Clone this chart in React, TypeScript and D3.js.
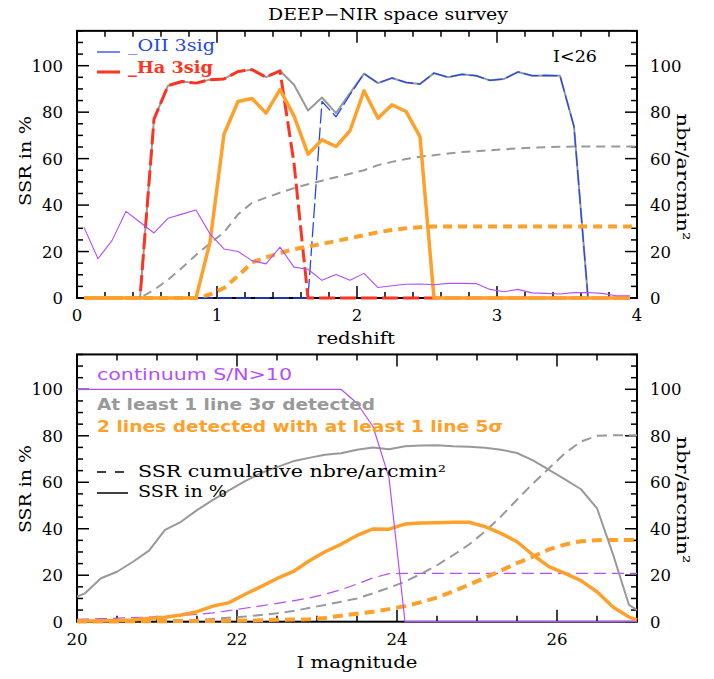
import React from 'react';
import * as d3 from 'd3';

// ---------- top panel data (redshift bins) ----------
const redshift = [0.05,0.15,0.25,0.35,0.45,0.55,0.65,0.75,0.85,0.95,1.05,1.15,1.25,1.35,1.45,1.55,1.65,1.75,1.85,1.95,2.05,2.15,2.25,2.35,2.45,2.55,2.65,2.75,2.85,2.95,3.05,3.15,3.25,3.35,3.45,3.55,3.65,3.75,3.85,3.95];
const ssrAnyLine = [0,0,0,0,0,77,91.4,93.2,92.5,94,94.3,97.5,98.3,95.1,97.8,91.8,80.7,86.3,79.6,88.2,96.6,92.5,94.7,92.8,92.1,96.8,95,96.3,95.7,93.7,94.3,97.3,95.7,95.8,95.7,73.8,0,0,0,0];
const ssrHa = [0,0,0,0,0,77,91.4,93.2,92.5,94,94.3,97.5,98.3,95.1,97.8,58,0,0,0,0,0,0,0,0,0,0,0,0,0,0,0,0,0,0,0,0,0,0,0,0];
const ssrOII = [0,0,0,0,0,0,0,0,0,0,0,0,0,0,0,0,0,84.6,78,87.5,96.6,92.5,94.7,92.8,92.1,96.8,95,96.3,95.7,93.7,94.3,97.3,95.7,95.8,95.7,73.8,0,0,0,0];
const ssrTwoLines = [0,0,0,0,0,0,0,0,0,24,70.5,84.6,85.9,79.6,89.7,78.4,61.9,68.1,65.2,72,89.2,77.4,83.2,80.3,69.5,0,0,0,0,0,0,0,0,0,0,0,0,0,0,0];
const ssrContinuumZ = [30.4,16.9,24.7,37.3,32.6,28,34.3,36.1,37.9,27.6,21.1,20,16.1,14.7,21.9,13.3,12.4,7.6,10.1,7.6,10.6,4.5,5.3,5.9,6,5.7,6.3,6.3,6.2,3.7,2.7,3.7,2.2,2,1.7,2.3,2.4,2,1,1];
const redshiftCum = [0.05,0.15,0.25,0.35,0.45,0.55,0.65,0.75,0.85,0.95,1.05,1.15,1.25,1.35,1.45,1.55,1.65,1.75,1.85,1.95,2.05,2.15,2.25,2.35,2.45,2.55,2.65,2.75,2.85,2.95,3.05,3.15,3.25,3.35,3.45,3.55,3.65,3.75,3.85,3.95,4.0];
const cumAnyLineZ = [0,0,0,0,0,3.5,7.8,13,18.5,23.5,28.3,36,41,43.2,45.3,47.3,49,50.5,52,53.5,55,57.2,58.6,59.8,60.8,61.5,62.2,62.8,63.2,63.6,64,64.4,64.7,64.9,65.1,65.2,65.2,65.2,65.2,65.2,65.2];
const cumTwoLinesZ = [0,0,0,0,0,0,0,0,0,1.5,4.3,9.5,15.3,17.5,19.4,21,22.2,23.3,24.5,25.8,27,28.3,29.3,30,30.5,30.8,30.8,30.8,30.8,30.8,30.8,30.8,30.8,30.8,30.8,30.8,30.8,30.8,30.8,30.8,30.8];

// ---------- bottom panel data (I magnitude bins) ----------
const mag = [20.0,20.1,20.3,20.5,20.7,20.9,21.1,21.3,21.5,21.7,21.9,22.1,22.3,22.5,22.7,22.9,23.1,23.3,23.5,23.7,23.9,24.1,24.3,24.5,24.7,24.9,25.1,25.3,25.5,25.7,25.9,26.1,26.3,26.5,26.7,26.9,27.0];
const ssrContinuumM = [100,100,100,100,100,100,100,100,100,100,100,100,100,100,100,100,100,100,94,84,62,0,0,0,0,0,0,0,0,0,0,0,0,0,0,0,0];
const ssrAnyLineM = [10.8,12.2,18.7,21.5,25.8,30.6,39.5,43,48,52.4,56.5,60.5,64,66.5,69,70.5,71.8,72.5,74,75,74.2,75.5,75.8,75.9,75.5,75.3,74.8,74,72.6,69.4,65.3,61.2,57,48.8,29,7.2,5];
const ssrTwoLinesM = [0.3,0.3,0.4,0.5,0.7,1.4,1.9,2.9,4.3,6.7,8.2,11.8,15.1,18.6,21.5,26.1,30.1,33.3,37.1,39.9,39.8,42,42.5,42.6,42.8,42.8,40.9,38,34.4,28.7,23.7,20.8,17.7,12.9,6.3,2,0.8];
const cumContinuumM = [1,1.1,1.3,1.5,1.8,2,2.4,2.7,3.1,3.8,4.8,5.8,6.8,7.9,9,10.2,11.8,13.8,16.2,18.8,20.7,20.8,20.8,20.8,20.8,20.8,20.8,20.8,20.8,20.8,20.8,20.8,20.8,20.8,20.8,20.8,20.8];
const cumAnyLineM = [0,0.1,0.2,0.3,0.4,0.5,0.6,0.7,0.8,1.2,1.7,2.2,2.9,3.6,4.6,5.9,7.2,8.6,10,12.2,14.6,17.2,20.6,24.3,28.6,33.2,38.8,45.3,52.5,59.5,66,72.5,77.5,80,80.2,80.2,80.2];
const cumTwoLinesM = [0.1,0.1,0.1,0.1,0.2,0.2,0.2,0.3,0.3,0.3,0.4,0.5,0.6,0.8,0.9,1.1,1.6,2.6,3.4,4.3,5.4,6.7,8.4,10.4,13,15.9,18.9,22,25.2,28,31.1,33.2,34.6,35.1,35.2,35.2,35.2];

// ---------- ticks ----------
const yMajor = [0, 20, 40, 60, 80, 100];
const zMajor = [0, 1, 2, 3, 4];
const magMajor = [20, 22, 24, 26];

const C = {
  blue: '#2446f0',
  red: '#ff3320',
  orange: '#ffa02a',
  grey: '#999999',
  purple: '#b44dff',
};
const SERIF = '"DejaVu Serif", serif';
const SANS = '"DejaVu Sans", sans-serif';

const L = 77, R = 637;

function Axes({ x, y, xMajor, xMinorStep }: any) {
  const [x0, x1] = x.domain();
  const [y0b, y1b] = y.range();
  const xMinor = d3.range(x0, x1 + 1e-9, xMinorStep);
  const yMinor = d3.range(0, 115.001, 5);
  const els: any[] = [];
  xMinor.forEach((v: number, i: number) => {
    const major = xMajor.some((m: number) => Math.abs(m - v) < 1e-6);
    const len = major ? 12 : 6;
    const px = x(v);
    els.push(<line key={`xb${i}`} x1={px} x2={px} y1={y0b} y2={y0b - len} />);
    els.push(<line key={`xt${i}`} x1={px} x2={px} y1={y1b} y2={y1b + len} />);
  });
  yMinor.forEach((v: number, i: number) => {
    const major = yMajor.includes(v);
    const len = major ? 12 : 6;
    const py = y(v);
    els.push(<line key={`yl${i}`} x1={L} x2={L + len} y1={py} y2={py} />);
    els.push(<line key={`yr${i}`} x1={R} x2={R - len} y1={py} y2={py} />);
  });
  return (
    <g>
      <g stroke="#000" strokeWidth={1.5}>{els}</g>
      <rect x={L} y={y1b} width={R - L} height={y0b - y1b} fill="none" stroke="#000" strokeWidth={2} />
      <g fontFamily={SERIF} fontSize={16.5} fill="#000">
        {yMajor.map((v) => (
          <text key={`tl${v}`} x={L - 14} y={y(v) + 6} textAnchor="end">{v}</text>
        ))}
        {yMajor.map((v) => (
          <text key={`tr${v}`} x={R + 13} y={y(v) + 6} textAnchor="start">{v}</text>
        ))}
        {xMajor.map((v: number) => (
          <text key={`tx${v}`} x={x(v)} y={y0b + 23} textAnchor="middle">{String(v)}</text>
        ))}
      </g>
    </g>
  );
}

export default function App() {
  const xT = d3.scaleLinear().domain([0, 4]).range([L, R]);
  const yT = d3.scaleLinear().domain([0, 115]).range([298, 298 - 115 * 2.323]);
  const xB = d3.scaleLinear().domain([20, 27]).range([L, R]);
  const yB = d3.scaleLinear().domain([0, 115]).range([621.7, 621.7 - 115 * 2.324]);

  const lineT = (xs: number[], ys: number[]) =>
    d3.line<number>().x((_, i) => xT(xs[i])).y((d) => yT(d))(ys) || '';
  const lineB = (xs: number[], ys: number[]) =>
    d3.line<number>().x((_, i) => xB(xs[i])).y((d) => yB(d))(ys) || '';

  const topTop = yT(115);
  const botTop = yB(115);

  return (
    <svg width={714} height={679} style={{ position: 'absolute', left: 0, top: 0, background: '#fff' }}>
      <defs>
        <clipPath id="clipT"><rect x={L} y={topTop} width={R - L + 1} height={298 - topTop + 3} /></clipPath>
        <clipPath id="clipB"><rect x={L} y={botTop} width={R - L + 1} height={621.7 - botTop + 3} /></clipPath>
      </defs>
      <rect x={0} y={0} width={714} height={679} fill="#fff" />

      <text x={388} y={20} textAnchor="middle" fontFamily={SERIF} fontSize={16} textLength={240} lengthAdjust="spacingAndGlyphs">DEEP−NIR space survey</text>

      {/* ===== top panel ===== */}
      <Axes x={xT} y={yT} xMajor={zMajor} xMinorStep={0.2} />
      <g clipPath="url(#clipT)" fill="none" strokeLinejoin="round">
        <path d={lineT(redshift, ssrAnyLine)} stroke={C.grey} strokeWidth={2} />
        <path d={lineT(redshift, ssrOII)} stroke={C.blue} strokeWidth={1.3} strokeDasharray="15 4" />
        <path d={lineT(redshift, ssrHa)} stroke={C.red} strokeWidth={3} strokeDasharray="16 5" />
        <path d={lineT(redshiftCum, cumAnyLineZ)} stroke={C.grey} strokeWidth={2} strokeDasharray="9 6" />
        <path d={lineT(redshiftCum, cumTwoLinesZ)} stroke={C.orange} strokeWidth={4} strokeDasharray="9 6" />
        <path d={lineT(redshift, ssrTwoLines)} stroke={C.orange} strokeWidth={3.5} />
        <path d={lineT(redshift, ssrContinuumZ)} stroke={C.purple} strokeWidth={1.1} />
      </g>

      <line x1={97} x2={120} y1={52} y2={52} stroke={C.blue} strokeWidth={1.3} />
      <text x={128} y={51} fontFamily={SERIF} fontSize={16} fill={C.blue} textLength={87} lengthAdjust="spacingAndGlyphs">_OII 3sig</text>
      <line x1={97} x2={120} y1={72} y2={72} stroke={C.red} strokeWidth={3} />
      <text x={128} y={73} fontFamily={SERIF} fontSize={16} fontWeight="bold" fill={C.red} textLength={85} lengthAdjust="spacingAndGlyphs">_Ha 3sig</text>
      <text x={553} y={62} fontFamily={SERIF} fontSize={16} textLength={44} lengthAdjust="spacingAndGlyphs">I&lt;26</text>

      <text x={356} y={344} textAnchor="middle" fontFamily={SERIF} fontSize={17} textLength={78} lengthAdjust="spacingAndGlyphs">redshift</text>
      <text transform="translate(31,161) rotate(-90)" textAnchor="middle" fontFamily={SERIF} fontSize={17} textLength={90} lengthAdjust="spacingAndGlyphs">SSR in %</text>
      <text transform="translate(677,177) rotate(90)" textAnchor="middle" fontFamily={SERIF} fontSize={17} textLength={127} lengthAdjust="spacingAndGlyphs">nbr/arcmin²</text>

      {/* ===== bottom panel ===== */}
      <Axes x={xB} y={yB} xMajor={magMajor} xMinorStep={0.5} />
      <g clipPath="url(#clipB)" fill="none" strokeLinejoin="round">
        <path d={lineB(mag, cumContinuumM)} stroke={C.purple} strokeWidth={1.2} strokeDasharray="12 6" />
        <path d={lineB(mag, cumAnyLineM)} stroke={C.grey} strokeWidth={2} strokeDasharray="10 6" />
        <path d={lineB(mag, cumTwoLinesM)} stroke={C.orange} strokeWidth={4} strokeDasharray="10 6" />
        <path d={lineB(mag, ssrAnyLineM)} stroke={C.grey} strokeWidth={2} />
        <path d={lineB(mag, ssrTwoLinesM)} stroke={C.orange} strokeWidth={3.5} />
        <path d={lineB(mag, ssrContinuumM)} stroke={C.purple} strokeWidth={1.2} />
      </g>

      <text x={97} y={380} fontFamily={SANS} fontSize={16} fill={C.purple} textLength={195} lengthAdjust="spacingAndGlyphs">continuum S/N&gt;10</text>
      <text x={97} y={410} fontFamily={SANS} fontSize={16} fontWeight="bold" fill={C.grey} textLength={278} lengthAdjust="spacingAndGlyphs">At least 1 line 3σ detected</text>
      <text x={97} y={432} fontFamily={SANS} fontSize={16} fontWeight="bold" fill={C.orange} textLength={406} lengthAdjust="spacingAndGlyphs">2 lines detected with at least 1 line 5σ</text>
      <line x1={97} x2={124} y1={472} y2={472} stroke="#000" strokeWidth={1.5} strokeDasharray="9 9" />
      <text x={138} y={477} fontFamily={SERIF} fontSize={16} textLength={308} lengthAdjust="spacingAndGlyphs">SSR cumulative nbre/arcmin²</text>
      <line x1={97} x2={128} y1={493} y2={493} stroke="#000" strokeWidth={1.5} />
      <text x={138} y={497} fontFamily={SERIF} fontSize={16} textLength={89} lengthAdjust="spacingAndGlyphs">SSR in %</text>

      <text x={357} y={668} textAnchor="middle" fontFamily={SERIF} fontSize={17} textLength={121} lengthAdjust="spacingAndGlyphs">I magnitude</text>
      <text transform="translate(31,489) rotate(-90)" textAnchor="middle" fontFamily={SERIF} fontSize={17} textLength={88} lengthAdjust="spacingAndGlyphs">SSR in %</text>
      <text transform="translate(677,500) rotate(90)" textAnchor="middle" fontFamily={SERIF} fontSize={17} textLength={127} lengthAdjust="spacingAndGlyphs">nbr/arcmin²</text>
    </svg>
  );
}
